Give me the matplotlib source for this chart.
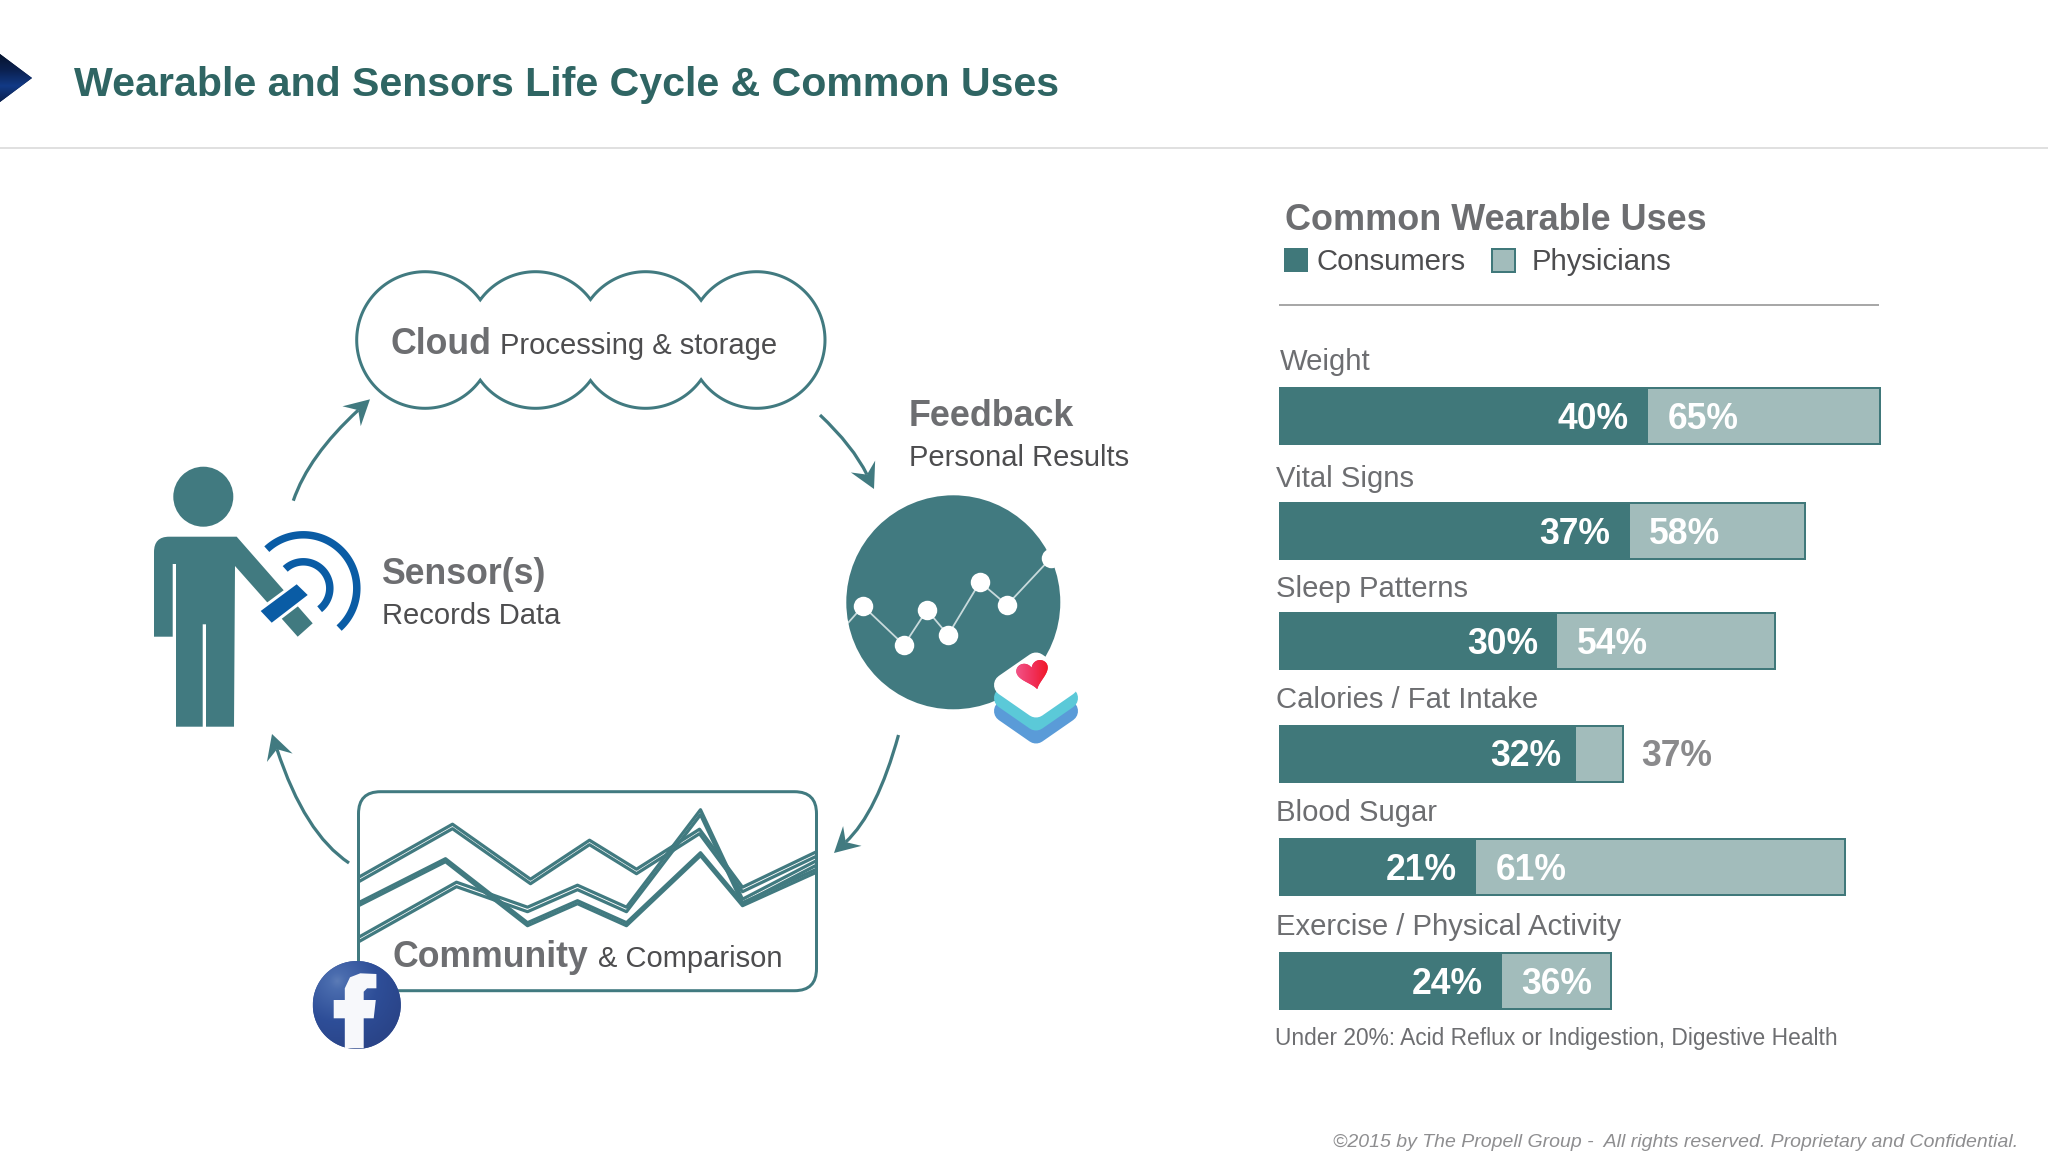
import numpy as np
import matplotlib
matplotlib.use("Agg")
import matplotlib.pyplot as plt
from matplotlib.colors import LinearSegmentedColormap
from matplotlib.patches import Circle, FancyBboxPatch, PathPatch, Polygon, Rectangle
from matplotlib.path import Path

W, H = 2048, 1170
plt.rcParams["font.family"] = ["Liberation Sans", "DejaVu Sans"]

TEAL = "#417A80"
BAR_DARK = "#40787A"
BAR_LIGHT = "#A2BCBB"
TITLE_COLOR = "#2F6563"
GREY_BOLD = "#6D6E71"
GREY_TEXT = "#4D4D4F"
BLUE = "#0A5CA5"

uses = ["Weight", "Vital Signs", "Sleep Patterns", "Calories / Fat Intake",
        "Blood Sugar", "Exercise / Physical Activity"]
consumer_labels = ["40%", "37%", "30%", "32%", "21%", "24%"]
physician_labels = ["65%", "58%", "54%", "37%", "61%", "36%"]
consumer_bars = [39.9, 37.9, 30.1, 32.1, 21.3, 24.1]
physician_bars = [65.0, 56.9, 53.6, 37.2, 61.2, 35.9]

# little chart in the feedback circle
spark_x = [0, 15, 56, 79, 100, 132, 159, 203]
spark_y = [37, 54, 15, 50, 25, 78, 55, 102]

# community chart, three series each drawn as a pair of lines
comm_x_a = [2, 94, 172, 231, 278, 341, 384, 457]
comm_x_b = [2, 87, 169, 219, 268, 342, 384, 457]
comm_x_c = [2, 98, 169, 219, 268, 342, 384, 457]
comm_a1 = [114.5, 166.5, 111.5, 150.5, 121.5, 161.5, 103.5, 138.5]
comm_a2 = [110, 162, 107, 146, 117, 157, 99, 134]
comm_b1 = [89, 132, 68, 90, 68, 138, 88, 121]
comm_b2 = [86, 129, 65, 87, 65, 135, 85, 118]
comm_c1 = [54.5, 108.5, 83.5, 105.5, 83.5, 181, 91.5, 129.5]
comm_c2 = [50, 104, 79, 101, 79, 176, 87, 125]

row_centers = [416, 531, 640.5, 753.5, 866.5, 980.5]
row_label_y = [370, 487, 597, 708, 821, 935]
row_label_x = [1280, 1276, 1276, 1276, 1276, 1276]
consumer_label_gap = [2.1, 2.1, 2.1, 1.55, 2.1, 2.1]


def px(v):
    return v * 0.72


def label(a, x, y, s, size, color=GREY_TEXT, **kw):
    return a.text(x, y, s, fontsize=size, color=color, va="baseline", **kw)


def clipped_image(a, arr, extent, patch, cmap):
    im = a.imshow(arr, extent=extent, cmap=cmap, aspect="auto", origin="upper",
                  vmin=0, vmax=1, zorder=patch.get_zorder())
    im.set_clip_path(patch)
    a.set_xlim(0, W)
    a.set_ylim(H, 0)


def curved_arrow(a, start, ctrl, tip):
    start, ctrl, tip = map(np.array, (start, ctrl, tip))
    d = (tip - ctrl) / np.hypot(*(tip - ctrl))
    n = np.array([-d[1], d[0]])
    end = tip - 16 * d
    a.add_patch(PathPatch(Path([start, ctrl, end], [Path.MOVETO, Path.CURVE3, Path.CURVE3]),
                          fc="none", ec=TEAL, lw=px(3.2), capstyle="butt"))
    a.add_patch(Polygon([tip, tip - 25 * d + 13.5 * n, end, tip - 25 * d - 13.5 * n],
                        fc=TEAL, ec="none"))


def rounded_diamond(a, cx, cy, color, z):
    # round join on a thick edge gives the icon its soft corners
    a.add_patch(Polygon([(cx - 31, cy), (cx, cy - 21.5), (cx + 31, cy), (cx, cy + 21.5)],
                        fc=color, ec=color, lw=px(22), joinstyle="round", zorder=z))


fig = plt.figure(figsize=(W / 100, H / 100), dpi=100, facecolor="white")
ax = fig.add_axes([0, 0, 1, 1])
ax.set_xlim(0, W)
ax.set_ylim(H, 0)
ax.axis("off")

# header
tri = Polygon([(0, 54), (32, 78), (0, 102)], fc="#0B1F4A", ec="none", zorder=2)
ax.add_patch(tri)
navy = LinearSegmentedColormap.from_list("navy", ["#07142F", "#0B2150", "#123A86", "#0B2150"])
clipped_image(ax, np.linspace(0, 1, 50)[:, None], (0, 32, 102, 54), tri, navy)
label(ax, 74, 95.5, "Wearable and Sensors Life Cycle & Common Uses", 29.6, TITLE_COLOR, fontweight="bold")
ax.plot([0, W], [148, 148], color="#E0E0E0", lw=px(2))

# person + sensor
body = [(154, 552), (154, 536.7), (169, 536.7), (236.7, 536.7), (312.7, 623.3), (297.7, 636.7),
        (235, 566), (234, 726.7), (206, 726.7), (206, 624.3), (202.7, 624.3), (202.7, 726.7),
        (176, 726.7), (176, 564), (172.7, 564), (172.7, 636.7), (154, 636.7), (154, 552)]
codes = [Path.MOVETO, Path.CURVE3, Path.CURVE3] + [Path.LINETO] * (len(body) - 3)
ax.add_patch(PathPatch(Path(body, codes), fc=TEAL, ec="none"))
ax.add_patch(Circle((203.3, 496.7), 30, fc=TEAL, ec="none"))
for r, a0, a1 in [(53.5, -133, 48), (26.5, -133, 52)]:
    t = np.radians(np.linspace(a0, a1, 80))
    ax.plot(303.3 + r * np.cos(t), 588.3 + r * np.sin(t), color=BLUE, lw=px(7.5),
            solid_capstyle="butt")
device = [(296.7, 584.3), (307.7, 595), (271.7, 622.7), (260.7, 611)]
ax.add_patch(Polygon(device, fc="white", ec="white", lw=px(6), zorder=3))
ax.add_patch(Polygon(device, fc=BLUE, ec="none", zorder=4))
label(ax, 381, 584.5, "Sensor(s)", 25.7, GREY_BOLD, fontweight="bold")
label(ax, 382, 624.3, "Records Data", 21)

# cloud outline from four overlapping circles
centers = [425, 535.5, 645.5, 756.7]
r = 68.3
cy = 340
top, bottom = [], []
for i, c in enumerate(centers):
    left_a = np.pi if i == 0 else np.pi + np.arcsin(np.sqrt(r**2 - ((c - centers[i - 1]) / 2) ** 2) / r)
    right_a = 2 * np.pi if i == 3 else 2 * np.pi - np.arcsin(np.sqrt(r**2 - ((centers[i + 1] - c) / 2) ** 2) / r)
    t = np.linspace(left_a, right_a, 60)
    top.append(np.c_[c + r * np.cos(t), cy + r * np.sin(t)])
    bottom.append(np.c_[c + r * np.cos(t), cy - r * np.sin(t)])
outline = np.vstack(top + [b[::-1] for b in bottom[::-1]])
ax.add_patch(Polygon(outline, fc="white", ec=TEAL, lw=px(3), joinstyle="miter"))
label(ax, 391, 353.5, "Cloud", 25.7, GREY_BOLD, fontweight="bold")
label(ax, 500.5, 353.5, "Processing & storage", 21)

# feedback
label(ax, 909, 426, "Feedback", 25.8, GREY_BOLD, fontweight="bold")
label(ax, 909, 466, "Personal Results", 21)
ax.add_patch(Circle((953.3, 602.3), 107, fc=TEAL, ec="none"))
ax_spark = fig.add_axes([848 / W, 1 - 660 / H, 212 / W, 110 / H])
ax_spark.set_xlim(0, 212)
ax_spark.set_ylim(0, 110)
ax_spark.axis("off")
ax_spark.plot(spark_x, spark_y, color="#C8DADC", lw=px(1.8))
ax_spark.plot(spark_x[1:], spark_y[1:], ls="none", marker="o", ms=px(19.5), mfc="white", mec="none")

ax_icon = fig.add_axes([0, 0, 1, 1])
ax_icon.set_xlim(0, W)
ax_icon.set_ylim(H, 0)
ax_icon.axis("off")
rounded_diamond(ax_icon, 1036, 711, "#5A9BD8", 2)
rounded_diamond(ax_icon, 1036, 698, "#5BC9D8", 3)
rounded_diamond(ax_icon, 1036, 685, "white", 4)
t = np.linspace(0, 2 * np.pi, 240, endpoint=False)
hx = 16 * np.sin(t) ** 3
hy = -(13 * np.cos(t) - 5 * np.cos(2 * t) - 2 * np.cos(3 * t) - np.cos(4 * t))
# tilt it and blunt the point, the icon's heart is soft and leans over
rot = np.radians(-14)
rx = hx * np.cos(rot) - hy * np.sin(rot)
ry = hx * np.sin(rot) + hy * np.cos(rot)
kernel = np.ones(25) / 25
rx = np.convolve(np.r_[rx[-12:], rx, rx[:12]], kernel, "valid")
ry = np.convolve(np.r_[ry[-12:], ry, ry[:12]], kernel, "valid")
heart = Polygon(np.c_[1033 + rx * 1.05, 673 + ry * 1.0], fc="#F0305A", ec="none", zorder=5)
ax_icon.add_patch(heart)
hearts = LinearSegmentedColormap.from_list("heart", ["#F2558A", "#F0305A", "#F0141E"])
clipped_image(ax_icon, np.linspace(0, 1, 40)[None, :], (1015, 1051, 690, 656), heart, hearts)

# community box
ax_icon.add_patch(FancyBboxPatch((358.5 + 22, 791.7 + 22), 458 - 44, 199 - 44,
                                 boxstyle="round,pad=22,rounding_size=22",
                                 fc="none", ec=TEAL, lw=px(3), zorder=1))
ax_comm = fig.add_axes([358.5 / W, 1 - 990.7 / H, 458 / W, 199 / H])
ax_comm.set_xlim(0, 458)
ax_comm.set_ylim(0, 199)
ax_comm.axis("off")
for xs, y1, y2 in [(comm_x_a, comm_a1, comm_a2), (comm_x_b, comm_b1, comm_b2), (comm_x_c, comm_c1, comm_c2)]:
    ax_comm.plot(xs, y1, color=TEAL, lw=px(3.2))
    ax_comm.plot(xs, y2, color=TEAL, lw=px(3.2))

ax_top = fig.add_axes([0, 0, 1, 1])
ax_top.set_xlim(0, W)
ax_top.set_ylim(H, 0)
ax_top.axis("off")
label(ax_top, 392, 967, "Community", 25.7, GREY_BOLD, fontweight="bold")
label(ax_top, 598.5, 967, "& Comparison", 21)

# facebook badge
badge = Circle((356.8, 1005), 44, fc="#3B5998", ec="none", zorder=2)
ax_top.add_patch(badge)
yy, xx = np.mgrid[-1:1:120j, -1:1:120j]
shade = np.clip(0.25 + 0.45 * np.hypot(xx + 0.45, yy + 0.55), 0, 1)
blues = LinearSegmentedColormap.from_list("fb", ["#8FA8D0", "#4A6CAE", "#2E4E98", "#2A4488"])
clipped_image(ax_top, shade, (312.8, 400.8, 1049, 961), badge, blues)
f_shape = [(344.8, 1048.3), (344.8, 1018.3), (333.7, 1018.3), (333.7, 1000), (344.8, 1000), (344.8, 988.3),
           (350, 977.3), (360.3, 973.3), (376.4, 974), (376.4, 988.3), (367.1, 988.3), (363.7, 991.7),
           (363.7, 1000), (375.8, 1000), (373.7, 1018.3), (363.7, 1018.3), (363.7, 1048.3)]
ax_top.add_patch(Polygon(f_shape, fc="#F7F8FB", ec="none", zorder=3))

# cycle arrows
curved_arrow(ax_top, (293.3, 500.7), (308.4, 456), (370, 399.3))
curved_arrow(ax_top, (820, 415), (853, 446), (874, 489))
curved_arrow(ax_top, (898.5, 735), (877, 813), (834, 853))
curved_arrow(ax_top, (349, 863), (304.5, 833.5), (272, 734))

# right panel
label(ax_top, 1285, 230, "Common Wearable Uses", 25.9, GREY_BOLD, fontweight="bold")
ax_top.add_patch(Rectangle((1283.7, 248.3), 24, 24, fc=BAR_DARK, ec="none"))
ax_top.add_patch(Rectangle((1492, 249), 22.6, 22.6, fc=BAR_LIGHT, ec=BAR_DARK, lw=px(2)))
label(ax_top, 1317, 270.5, "Consumers", 21.1)
label(ax_top, 1532, 270.5, "Physicians", 21.1)
ax_top.plot([1280, 1878], [305, 305], color="#A8A8A8", lw=px(2))

ax_bars = fig.add_axes([1279 / W, 1 - 1020 / H, 611 / W, 640 / H])
ax_bars.set_xlim(0, 611 / 9.25)
ax_bars.set_ylim(1020, 380)
ax_bars.axis("off")
ax_bars.barh(row_centers, physician_bars, height=56, color=BAR_LIGHT, edgecolor=BAR_DARK, linewidth=px(2))
ax_bars.barh(row_centers, consumer_bars, height=57, color=BAR_DARK, edgecolor="none")
for i, yc in enumerate(row_centers):
    ax_bars.text(consumer_bars[i] - consumer_label_gap[i], yc + 13, consumer_labels[i], ha="right", va="baseline",
                 color="white", fontsize=25.6, fontweight="bold")
    if physician_bars[i] - consumer_bars[i] > 10:
        ax_bars.text(consumer_bars[i] + 2.1, yc + 13, physician_labels[i], ha="left", va="baseline",
                     color="white", fontsize=25.6, fontweight="bold")
    else:
        ax_bars.text(physician_bars[i] + 2.0, yc + 13, physician_labels[i], ha="left", va="baseline",
                     color="#8A8A8C", fontsize=25.6, fontweight="bold")

for name, x, y in zip(uses, row_label_x, row_label_y):
    label(ax_top, x, y, name, 21.1, GREY_BOLD)

label(ax_top, 1275, 1045, "Under 20%: Acid Reflux or Indigestion, Digestive Health", 16.4, GREY_BOLD)
label(ax_top, 2018, 1146.7, "©2015 by The Propell Group -  All rights reserved. Proprietary and Confidential.",
      14, "#8E8E90", style="italic", ha="right")

fig.savefig("out.png", dpi=100, facecolor="white")
